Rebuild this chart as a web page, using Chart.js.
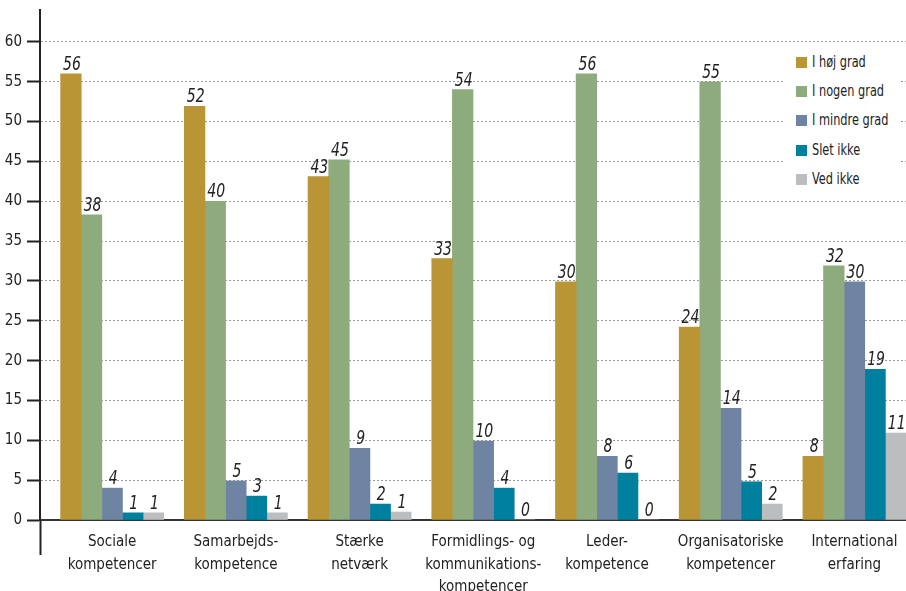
<!DOCTYPE html>
<html>
<head>
<meta charset="utf-8">
<script src="https://cdn.jsdelivr.net/npm/chart.js@4"></script>
<style>
    body { margin: 0; background: #fff; }
    #wrap { position: relative; width: 906px; height: 591px; overflow: hidden; }
    #legend {
        position: absolute; left: 783px; top: 44px; width: 117px; height: 155px;
        background: #fff; font-family: "Liberation Sans Narrow", "DejaVu Sans Condensed", sans-serif;
        font-size: 15px; color: #222;
    }
    #legend div { position: absolute; left: 13px; height: 16px; line-height: 16px; white-space: nowrap; }
    #legend span { display: inline-block; width: 11px; height: 11px; margin-right: 5px; vertical-align: -1px; }
    #legend b { display: inline-block; font-weight: normal; transform: scaleX(0.84); transform-origin: left center; }
</style>
</head>
<body>
<div id="wrap">
    <canvas id="chart" width="906" height="591"></canvas>
    <div id="legend"></div>
</div>
<script>
    const FONT = '"Liberation Sans Narrow", "DejaVu Sans Condensed", sans-serif';

    const categories = [
        ['Sociale', 'kompetencer'],
        ['Samarbejds-', 'kompetence'],
        ['Stærke', 'netværk'],
        ['Formidlings- og', 'kommunikations-', 'kompetencer'],
        ['Leder-', 'kompetence'],
        ['Organisatoriske', 'kompetencer'],
        ['International', 'erfaring']
    ];

    const seriesNames = ['I høj grad', 'I nogen grad', 'I mindre grad', 'Slet ikke', 'Ved ikke'];
    const seriesColors = ['#BA9535', '#8EAB7E', '#6F84A3', '#00809F', '#BCBDBF'];

    const hoejGrad = [56, 51.9, 43.1, 32.8, 29.9, 24.2, 8];
    const nogenGrad = [38.3, 40, 45.2, 54, 56, 55, 31.9];
    const mindreGrad = [4, 4.9, 9, 9.9, 8, 14, 29.9];
    const sletIkke = [0.9, 3, 2, 4, 5.9, 4.8, 18.9];
    const vedIkke = [0.9, 0.9, 1, 0, 0, 2, 10.9];

    const yTicksStep = 5;
    const yMax = 64;

    const seriesValues = [hoejGrad, nogenGrad, mindreGrad, sletIkke, vedIkke];

    // empty first slot in every group gives the gap before each group of bars
    const datasets = [{label: '', data: [], backgroundColor: 'rgba(0,0,0,0)'}].concat(
        seriesNames.map((name, i) => ({
            label: name,
            data: seriesValues[i],
            backgroundColor: seriesColors[i],
            borderWidth: 0
        }))
    );

    const valueLabels = {
        id: 'valueLabels',
        afterDatasetsDraw(chart) {
            const ctx = chart.ctx;
            ctx.save();
            ctx.font = 'italic 19px ' + FONT;
            ctx.fillStyle = '#222';
            ctx.textAlign = 'center';
            ctx.textBaseline = 'alphabetic';
            chart.data.datasets.forEach((ds, i) => {
                if (!ds.label) return;
                chart.getDatasetMeta(i).data.forEach((bar, j) => {
                    ctx.save();
                    ctx.translate(bar.x + 1, bar.y - 4);
                    ctx.scale(0.82, 1);
                    ctx.fillText(String(Math.round(ds.data[j])), 0, 0);
                    ctx.restore();
                });
            });
            ctx.restore();
        }
    };

    const edgeOnly = (ctx) => ctx.index === 0 ? '#222' : 'rgba(0,0,0,0)';

    const chart = new Chart(document.getElementById('chart'), {
        type: 'bar',
        data: {labels: categories, datasets: datasets},
        options: {
            responsive: false,
            animation: false,
            layout: {padding: {top: 10, right: 0, left: 0, bottom: 0}},
            datasets: {bar: {categoryPercentage: 1, barPercentage: 1}},
            plugins: {legend: {display: false}, tooltip: {enabled: false}},
            scales: {
                x: {
                    afterFit: (s) => { s.height = 71; },
                    grid: {
                        offset: true,
                        drawOnChartArea: false,
                        tickLength: 35,
                        color: edgeOnly,
                        tickColor: edgeOnly,
                        tickWidth: 2
                    },
                    border: {display: true, color: '#333', width: 2},
                    ticks: {
                        autoSkip: false,
                        maxRotation: 0,
                        labelOffset: 10.3,
                        padding: -24,
                        color: '#222',
                        font: {family: FONT, size: 15, lineHeight: 1.5}
                    }
                },
                y: {
                    min: 0,
                    max: yMax,
                    afterFit: (s) => { s.width = 40; s.paddingTop = 0; s.paddingBottom = 0; },
                    grid: {
                        color: '#9a9a9a',
                        lineWidth: 1,
                        tickLength: 13,
                        tickColor: '#222',
                        tickWidth: 2,
                        tickBorderDash: []
                    },
                    border: {display: true, color: '#222', width: 2, dash: [2, 2]},
                    ticks: {
                        stepSize: yTicksStep,
                        includeBounds: false,
                        padding: 5,
                        color: '#222',
                        font: {family: FONT, size: 15}
                    }
                }
            }
        },
        plugins: [valueLabels]
    });

    const legend = document.getElementById('legend');
    chart.data.datasets.filter((ds) => ds.label).forEach((ds, i) => {
        const row = document.createElement('div');
        row.style.top = (10 + i * 29.2) + 'px';
        row.innerHTML = '<span style="background:' + ds.backgroundColor + '"></span><b>' + ds.label + '</b>';
        legend.appendChild(row);
    });
</script>
</body>
</html>
